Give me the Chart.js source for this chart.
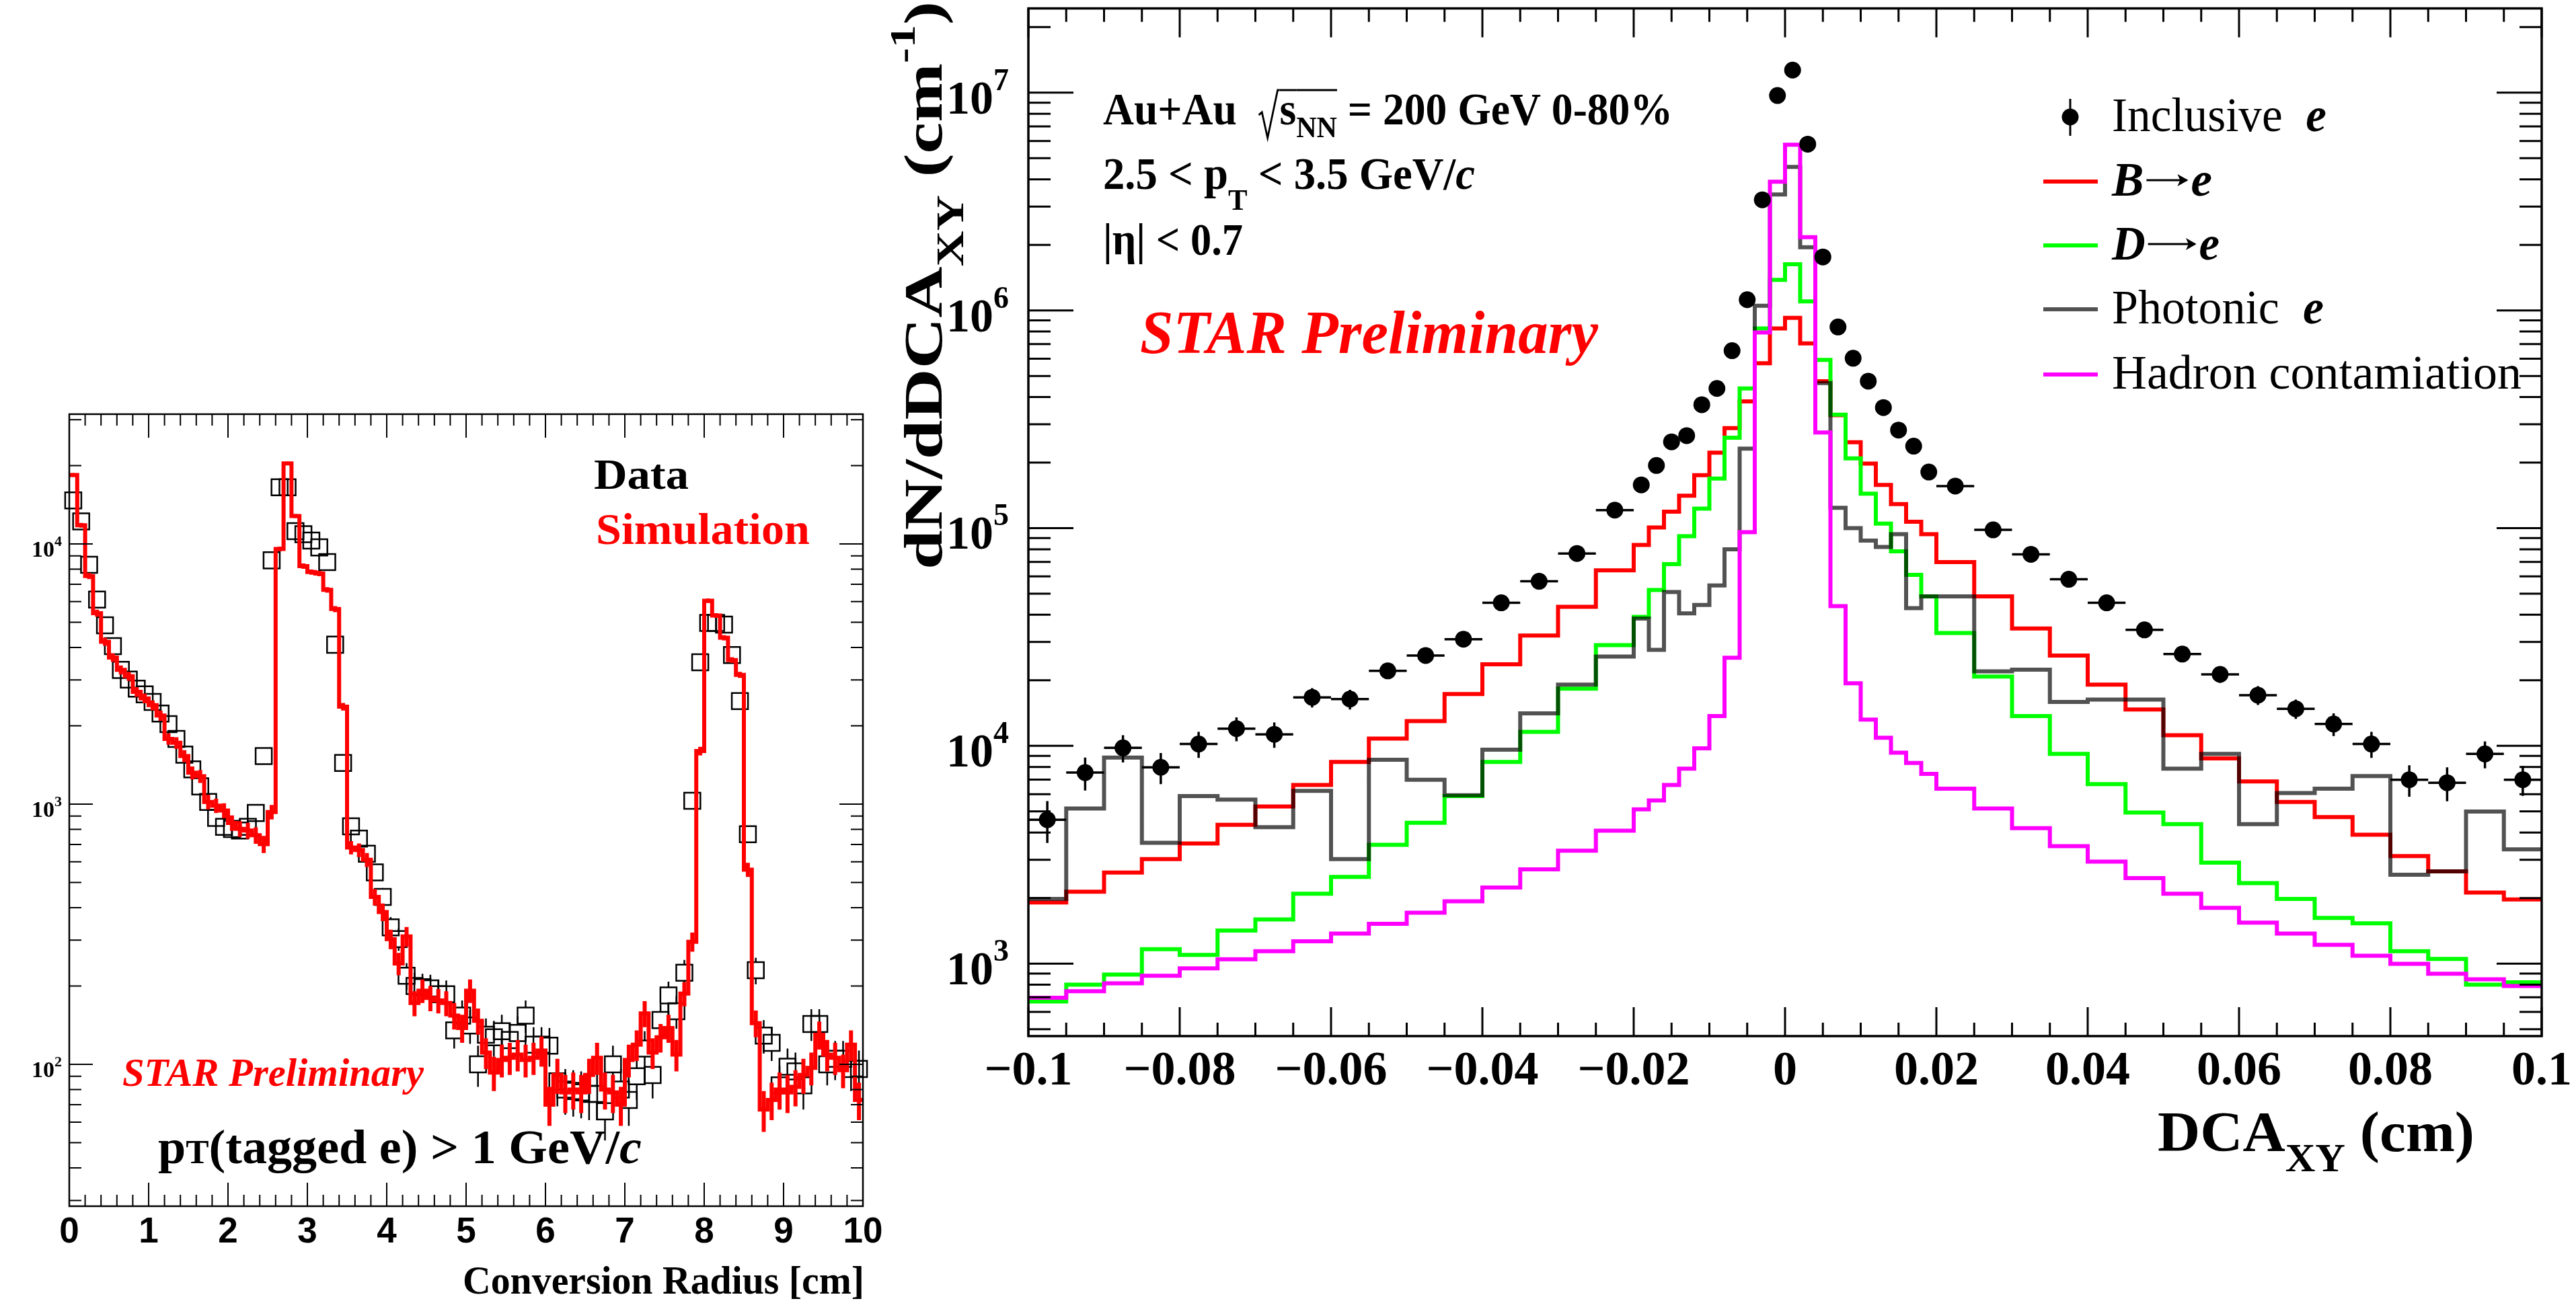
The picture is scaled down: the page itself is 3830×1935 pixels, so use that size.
<!DOCTYPE html>
<html lang="en">
<head>
<meta charset="UTF-8">
<title>Photon conversion radius and electron DCA_XY</title>
<script src="https://cdn.jsdelivr.net/npm/chart.js@4.4.1/dist/chart.umd.min.js"></script>
<style>
  html, body { margin: 0; padding: 0; background: #fff; }
  body { width: 3830px; height: 1935px; position: relative; overflow: hidden; }
  canvas { position: absolute; left: 0; top: 0; }
</style>
</head>
<body>
<canvas id="radius" width="3830" height="1935"></canvas>
<canvas id="dca" width="3830" height="1935"></canvas>
<script>
// ---------- conversion radius panel (0.1 cm bins) ----------
const radiusEdges = Array.from({ length: 101 }, (_, i) => i / 10);
const radiusTickValues = [0, 1, 2, 3, 4, 5, 6, 7, 8, 9, 10];
const radiusDecades = [2, 3, 4];

// simulation histogram
const simVals = [
  18400, 11800, 7530, 5420, 4210, 3660, 3280, 3100, 2700, 2550,
  2400, 2190, 1780, 1720, 1530, 1320, 1280, 1020, 987, 945,
  847, 804, 792, 759, 702, 933, 9570, 20400, 12800, 8220,
  7800, 7700, 6660, 5620, 2370, 681, 666, 611, 440, 385,
  303, 244, 310, 172, 192, 180, 176, 172, 154, 138,
  192, 147, 111, 93, 104, 106, 109, 104, 106, 113,
  70, 91, 78, 80, 78, 91, 106, 80, 78, 70,
  104, 119, 157, 111, 127, 138, 109, 187, 296, 1600,
  6050, 5310, 4360, 3580, 3140, 560, 144, 67, 73, 80,
  78, 82, 91, 97, 130, 109, 106, 95, 119, 73
];
const simErr = [
  300, 250, 200, 170, 150, 140, 130, 125, 115, 110,
  105, 100, 90, 88, 82, 75, 73, 65, 63, 62,
  58, 56, 56, 55, 53, 60, 200, 300, 230, 190,
  180, 180, 165, 150, 80, 40, 40, 38, 32, 30,
  26, 24, 27, 19, 20, 20, 19, 19, 18, 17,
  20, 17, 15, 14, 15, 15, 15, 15, 15, 15,
  12, 14, 13, 13, 13, 14, 15, 13, 13, 12,
  15, 16, 18, 15, 16, 17, 15, 20, 25, 60,
  120, 110, 100, 90, 85, 35, 17, 12, 12, 13,
  13, 13, 14, 14, 16, 15, 15, 14, 16, 12
];
// data (open squares)
const dataVals = [
  14700, 12200, 8320, 6110, 4870, 4050, 3280, 3010, 2780, 2640,
  2470, 2230, 2030, 1780, 1550, 1360, 1170, 1020, 885, 818,
  803, 792, 818, 925, 1530, 8650, 16500, 16500, 11200, 10900,
  10300, 9700, 8520, 4100, 1440, 822, 737, 645, 547, 440,
  336, 303, 219, 200, 198, 196, 186, 186, 135, 154,
  141, 100, 130, 127, 134, 124, 132, 154, 119, 119,
  118, 86, 80, 79, 78, 77, 77, 66, 100, 80,
  73, 90, 115, 91, 148, 184, 160, 225, 1030, 3510,
  4970, 4970, 4900, 3740, 2490, 766, 230, 129, 121, 83,
  98, 94, 83, 143, 143, 100, 105, 105, 96, 96
];
const dataErr = [
  250, 220, 180, 150, 130, 120, 110, 105, 100, 95,
  92, 88, 84, 78, 73, 68, 63, 60, 55, 53,
  53, 52, 53, 57, 73, 170, 240, 240, 200, 195,
  190, 185, 170, 120, 70, 50, 47, 44, 40, 36,
  32, 30, 26, 25, 25, 25, 24, 24, 20, 22,
  21, 18, 20, 20, 21, 20, 21, 22, 20, 20,
  20, 17, 16, 16, 16, 16, 16, 15, 18, 16,
  15, 17, 19, 17, 22, 24, 23, 27, 60, 110,
  130, 130, 130, 115, 90, 50, 27, 19, 18, 16,
  17, 17, 16, 20, 20, 17, 18, 18, 17, 17
];

// ---------- DCA_XY panel (variable binning) ----------
const dcaEdges = [
  -0.1, -0.095, -0.09, -0.085, -0.08, -0.075, -0.07, -0.065, -0.06, -0.055,
  -0.05, -0.045, -0.04, -0.035, -0.03, -0.025, -0.02,
  -0.018, -0.016, -0.014, -0.012, -0.01, -0.008, -0.006, -0.004, -0.002, 0,
  0.002, 0.004, 0.006, 0.008, 0.01, 0.012, 0.014, 0.016, 0.018, 0.02,
  0.025, 0.03, 0.035, 0.04, 0.045, 0.05, 0.055, 0.06, 0.065, 0.07,
  0.075, 0.08, 0.085, 0.09, 0.095, 0.1
];
const dcaTickValues = [-0.1, -0.08, -0.06, -0.04, -0.02, 0, 0.02, 0.04, 0.06, 0.08, 0.1];
const dcaDecades = [3, 4, 5, 6, 7];

const inclusiveVals = [
  4580, 7540, 9790, 7970, 10200, 12000, 11300, 16700, 16400, 22100,
  26000, 30900, 45400, 57000, 76500, 121000,
  158000, 194000, 249000, 266000, 369000, 438000, 653000, 1120000, 3220000, 9700000,
  12700000, 5800000, 1760000, 839000, 603000, 473000, 358000, 282000, 238000, 181000,
  156000, 98200, 75800, 58200, 45400, 34100, 26400, 21300, 17100, 14800,
  12600, 10200, 6990, 6770, 9180, 6990
];
const inclusiveErr = [
  1000, 1300, 1400, 1300, 1400, 1500, 1500, 1700, 1700, 1800,
  1900, 2000, 2200, 2400, 2700, 3300,
  3800, 4200, 4800, 5000, 6000, 6500, 8000, 10000, 18000, 30000,
  35000, 24000, 13000, 9000, 7800, 6800, 6000, 5300, 4900, 4300,
  3900, 3100, 2700, 2400, 2100, 1900, 1700, 1800, 1700, 1500,
  1500, 1400, 1150, 1200, 1300, 1100
];
const bVals = [
  1910, 2140, 2620, 3020, 3560, 4340, 5270, 6610, 8430, 10800,
  13000, 17300, 23700, 32100, 43500, 64000,
  83700, 100700, 119000, 141000, 175000, 222000, 288000, 382000, 572000, 826000,
  925000, 705000, 473000, 330000, 248000, 198000, 158000, 129000, 107000, 93800,
  69800, 48600, 34600, 26000, 19100, 14700, 11200, 8750, 6860, 5530,
  4710, 3910, 3120, 2650, 2120, 1970
];
const dVals = [
  670, 800, 891, 1165, 1096, 1418, 1595, 2094, 2500, 3510,
  4430, 5880, 8430, 11600, 18300, 29000,
  39100, 52000, 68300, 91800, 123000, 169000, 260000, 438000, 826000, 1380000,
  1630000, 1100000, 593000, 332000, 209000, 144000, 105000, 78200, 61000, 48600,
  33000, 20800, 13700, 9180, 6670, 4940, 4370, 2910, 2340, 1980,
  1620, 1530, 1140, 1050, 800, 820
];
const photonicVals = [
  1980, 5160, 8830, 3590, 5880, 5660, 4230, 6210, 3020, 8630,
  6990, 5930, 9610, 14100, 19100, 25700,
  38400, 27600, 50900, 40600, 44400, 54500, 80000, 232000, 1050000, 3410000,
  4560000, 1950000, 464000, 124000, 100000, 87600, 81900, 93800, 42900, 48600,
  48600, 22000, 22400, 15900, 16300, 16300, 7860, 9180, 4370, 6070,
  6360, 7260, 2560, 2650, 4990, 3350
];
const hadronVals = [
  697, 746, 811, 879, 950, 1047, 1140, 1267, 1374, 1523,
  1712, 1932, 2235, 2710, 3300, 4080,
  5110, 5610, 6610, 7860, 9750, 13700, 25400, 95900, 792000, 3900000,
  5770000, 2170000, 275000, 43800, 19400, 13200, 10900, 9300, 8350, 7430,
  6360, 5160, 4190, 3460, 2940, 2470, 2094, 1803, 1542, 1374,
  1220, 1086, 998, 899, 847, 789
];

const SERIF = '"Liberation Serif", "Times New Roman", Times, serif';
const SANS = '"Liberation Sans", Arial, Helvetica, sans-serif';
const RED = '#ff0000';
const GREEN = '#00ff00';
const MAGENTA = '#ff00ff';
const GREY = 'rgba(0,0,0,0.68)';
const LINE_W = 6;

// histogram outline: value i is held from edge i to edge i+1
function stepPoints(edges, vals) {
  const pts = vals.map((v, i) => ({ x: edges[i], y: v }));
  pts.push({ x: edges[vals.length], y: vals[vals.length - 1] });
  return pts;
}
function centerPoints(edges, vals) {
  return vals.map((v, i) => ({ x: (edges[i] + edges[i + 1]) / 2, y: v }));
}

function seg(t, size, style, dy, extra) {
  return Object.assign({ t: t, size: size, style: style || 'bold', dy: dy || 0 }, extra || {});
}

// long right arrow used in B->e / D->e
function arrowSeg(w, lift) {
  return {
    w: w,
    draw(c, x) {
      c.lineWidth = 3;
      c.beginPath();
      c.moveTo(x + 4, -lift); c.lineTo(x + w - 6, -lift);
      c.stroke();
      c.beginPath();
      c.moveTo(x + w - 4, -lift); c.lineTo(x + w - 20, -lift - 9); c.lineTo(x + w - 16, -lift); c.lineTo(x + w - 20, -lift + 9);
      c.closePath();
      c.fill();
    }
  };
}

// draws a run of text pieces (sub/superscripts, mixed styles), optionally squeezed to a width
function drawRich(ctx, segs, x, y, opt) {
  opt = opt || {};
  const fam = opt.family || SERIF;
  let total = 0;
  const ws = segs.map(s => {
    let w = s.w;
    if (w == null) {
      ctx.font = s.style + ' ' + s.size + 'px ' + (s.family || fam);
      w = ctx.measureText(s.t).width;
    }
    total += w;
    return w;
  });
  const sx = opt.width ? opt.width / total : 1;
  let cx = 0;
  if (opt.align === 'right') cx = -total;
  else if (opt.align === 'center') cx = -total / 2;
  ctx.save();
  ctx.translate(x, y);
  if (opt.rotate) ctx.rotate(opt.rotate);
  ctx.scale(sx, 1);
  ctx.textAlign = 'left';
  ctx.textBaseline = 'alphabetic';
  segs.forEach((s, i) => {
    const col = s.color || opt.color || '#000';
    ctx.fillStyle = col;
    ctx.strokeStyle = col;
    if (s.draw) {
      s.draw(ctx, cx, ws[i]);
    } else {
      ctx.font = s.style + ' ' + s.size + 'px ' + (s.family || fam);
      ctx.fillText(s.t, cx, s.dy);
    }
    if (s.over != null) {
      ctx.lineWidth = 3;
      ctx.beginPath();
      ctx.moveTo(cx, s.over);
      ctx.lineTo(cx + ws[i], s.over);
      ctx.stroke();
    }
    cx += ws[i];
  });
  ctx.restore();
}

function logTicks(scale) {
  const out = [];
  const lo = Math.floor(Math.log10(scale.min)), hi = Math.ceil(Math.log10(scale.max));
  for (let k = lo; k <= hi; k++) {
    for (let m = 1; m <= 9; m++) {
      const v = m * Math.pow(10, k);
      if (v >= scale.min && v <= scale.max) out.push({ v: v, major: m === 1 });
    }
  }
  return out;
}

// ROOT-like frame with ticks on all four sides pointing inwards
function drawFrame(chart, xTicks, st) {
  const ctx = chart.ctx, a = chart.chartArea, xs = chart.scales.x, ys = chart.scales.y;
  ctx.save();
  ctx.strokeStyle = '#000';
  ctx.lineCap = 'butt';
  ctx.lineWidth = st.tickWidth;
  ctx.beginPath();
  xTicks.forEach(t => {
    const px = xs.getPixelForValue(t.v);
    const len = t.major ? st.xMajor : st.xMinor;
    ctx.moveTo(px, a.bottom); ctx.lineTo(px, a.bottom - len);
    ctx.moveTo(px, a.top); ctx.lineTo(px, a.top + len);
  });
  logTicks(ys).forEach(t => {
    const py = ys.getPixelForValue(t.v);
    const len = t.major ? st.yMajor : st.yMinor;
    ctx.moveTo(a.left, py); ctx.lineTo(a.left + len, py);
    ctx.moveTo(a.right, py); ctx.lineTo(a.right - len, py);
  });
  ctx.stroke();
  ctx.lineWidth = st.frameWidth;
  ctx.strokeRect(a.left, a.top, a.right - a.left, a.bottom - a.top);
  ctx.restore();
}

// ---------------- left chart ----------------
const radiusDecor = {
  id: 'radiusDecor',
  beforeDatasetsDraw(chart) {
    // data error bars, only the part sticking out of the square
    const ctx = chart.ctx, xs = chart.scales.x, ys = chart.scales.y;
    const half = 12;
    ctx.save();
    ctx.strokeStyle = '#000';
    ctx.lineWidth = 2.5;
    ctx.beginPath();
    dataVals.forEach((v, i) => {
      const xc = xs.getPixelForValue((radiusEdges[i] + radiusEdges[i + 1]) / 2);
      const yc = ys.getPixelForValue(v);
      const yTop = ys.getPixelForValue(v + dataErr[i]);
      const yBot = ys.getPixelForValue(Math.max(v - dataErr[i], 1));
      if (yc - yTop > half) { ctx.moveTo(xc, yc - half); ctx.lineTo(xc, yTop); }
      if (yBot - yc > half) { ctx.moveTo(xc, yc + half); ctx.lineTo(xc, yBot); }
    });
    ctx.stroke();
    ctx.restore();
  },
  afterDatasetsDraw(chart) {
    const ctx = chart.ctx, xs = chart.scales.x, ys = chart.scales.y;
    ctx.save();
    ctx.strokeStyle = RED;
    ctx.lineWidth = LINE_W;
    ctx.beginPath();
    simVals.forEach((v, i) => {
      const xc = xs.getPixelForValue((radiusEdges[i] + radiusEdges[i + 1]) / 2);
      ctx.moveTo(xc, ys.getPixelForValue(v + simErr[i]));
      ctx.lineTo(xc, ys.getPixelForValue(Math.max(v - simErr[i], 1)));
    });
    ctx.stroke();
    ctx.restore();
  },
  afterDraw(chart) {
    const ctx = chart.ctx, xs = chart.scales.x, ys = chart.scales.y;
    const xTicks = [];
    for (let i = 0; i <= 50; i++) xTicks.push({ v: i * 0.2, major: i % 5 === 0 });
    drawFrame(chart, xTicks, { tickWidth: 2, frameWidth: 2.5, xMajor: 35, xMinor: 17, yMajor: 35, yMinor: 18 });

    ctx.save();
    ctx.fillStyle = '#000';
    ctx.font = 'bold 53px ' + SANS;
    ctx.textAlign = 'center';
    ctx.textBaseline = 'alphabetic';
    radiusTickValues.forEach(v => ctx.fillText(String(v), xs.getPixelForValue(v), 1848));
    ctx.restore();

    radiusDecades.forEach(k => {
      const py = ys.getPixelForValue(Math.pow(10, k));
      drawRich(ctx, [seg('10', 34), seg(String(k), 22, 'bold', -16)], 92, py + 19, { align: 'right' });
    });

    drawRich(ctx, [seg('Conversion Radius [cm]', 60)], 688, 1924, { width: 597 });
    drawRich(ctx, [seg('Data', 64)], 883, 727, { width: 141 });
    drawRich(ctx, [seg('Simulation', 66)], 886, 809, { width: 318, color: RED });
    drawRich(ctx, [seg('STAR Preliminary', 59, 'bold italic')], 182, 1615, { width: 448, color: RED });
    drawRich(ctx, [
      seg('p', 72), seg('T', 50), seg('(tagged e) > 1 GeV/', 72), seg('c', 72, 'bold italic')
    ], 235, 1730, { width: 719 });
  }
};

new Chart(document.getElementById('radius'), {
  type: 'line',
  data: {
    datasets: [
      {
        label: 'Data',
        data: centerPoints(radiusEdges, dataVals),
        showLine: false,
        pointStyle: 'rect',
        pointRadius: 17,
        pointBorderWidth: 2.5,
        pointBorderColor: '#000',
        pointBackgroundColor: 'rgba(0,0,0,0)',
        clip: false,
        order: 1
      },
      {
        label: 'Simulation',
        data: stepPoints(radiusEdges, simVals),
        stepped: true,
        borderColor: RED,
        borderWidth: LINE_W,
        borderJoinStyle: 'miter',
        pointRadius: 0,
        fill: false,
        order: 0
      }
    ]
  },
  options: {
    responsive: false,
    animation: false,
    devicePixelRatio: 1,
    events: [],
    layout: { padding: { left: 103, top: 616, right: 3830 - 1283, bottom: 1935 - 1794 } },
    scales: {
      x: { type: 'linear', min: 0, max: 10, display: false },
      y: { type: 'logarithmic', min: 28.5, max: 31530, display: false }
    },
    plugins: { legend: { display: false }, tooltip: { enabled: false } }
  },
  plugins: [radiusDecor]
});

// ---------------- right chart ----------------
const dcaDecor = {
  id: 'dcaDecor',
  afterDatasetsDraw(chart) {
    const ctx = chart.ctx, xs = chart.scales.x, ys = chart.scales.y;
    ctx.save();
    ctx.strokeStyle = '#000';
    ctx.lineWidth = 3.5;
    ctx.beginPath();
    inclusiveVals.forEach((v, i) => {
      const x0 = xs.getPixelForValue(dcaEdges[i]);
      const x1 = xs.getPixelForValue(dcaEdges[i + 1]);
      const xc = (x0 + x1) / 2;
      const yc = ys.getPixelForValue(v);
      ctx.moveTo(x0, yc); ctx.lineTo(x1, yc);
      ctx.moveTo(xc, ys.getPixelForValue(v + inclusiveErr[i]));
      ctx.lineTo(xc, ys.getPixelForValue(v - inclusiveErr[i]));
    });
    ctx.stroke();
    ctx.restore();
  },
  afterDraw(chart) {
    const ctx = chart.ctx, xs = chart.scales.x, ys = chart.scales.y;
    const xTicks = [];
    for (let i = -20; i <= 20; i++) xTicks.push({ v: i * 0.005, major: i % 4 === 0 });
    drawFrame(chart, xTicks, { tickWidth: 3, frameWidth: 3.5, xMajor: 43, xMinor: 20, yMajor: 67, yMinor: 33 });

    ctx.save();
    ctx.fillStyle = '#000';
    ctx.font = 'bold 72px ' + SERIF;
    ctx.textAlign = 'center';
    ctx.textBaseline = 'alphabetic';
    dcaTickValues.forEach(v => {
      const txt = (v < 0 ? '\u2212' : '') + String(Math.abs(v));
      ctx.fillText(txt, xs.getPixelForValue(v), 1613);
    });
    ctx.restore();

    dcaDecades.forEach(k => {
      const py = ys.getPixelForValue(Math.pow(10, k));
      drawRich(ctx, [seg('10', 70), seg(String(k), 46, 'bold', -35)], 1500, py + 31, { align: 'right' });
    });

    // axis titles
    drawRich(ctx, [seg('DCA', 85), seg('XY', 60, 'bold', 30), seg(' (cm)', 85)], 3208, 1712, { width: 471 });
    drawRich(ctx, [
      seg('dN/dDCA', 80), seg('XY', 56, 'bold', 32), seg(' (cm', 80), seg('-1', 52, 'bold', -40), seg(')', 80)
    ], 1400, 847, { width: 845, rotate: -Math.PI / 2 });

    // event selection
    const radical = {
      w: 34,
      draw(c, x) {
        c.lineWidth = 3;
        c.beginPath();
        c.moveTo(x + 1, -14); c.lineTo(x + 6, -18); c.lineTo(x + 15, 20); c.lineTo(x + 31, -51); c.lineTo(x + 34, -51);
        c.stroke();
      }
    };
    drawRich(ctx, [
      seg('Au+Au  ', 68), radical, seg('s', 68, 'bold', 0, { over: -51 }), seg('NN', 45, 'bold', 19, { over: -51 }),
      seg(' = 200 GeV 0-80%', 68)
    ], 1640, 185, { width: 847 });
    drawRich(ctx, [seg('2.5 < p', 68), seg('T', 45, 'bold', 31), seg(' < 3.5 GeV/', 68), seg('c', 68, 'bold italic')],
      1640, 281, { width: 553 });
    drawRich(ctx, [seg('|\u03b7| < 0.7', 68)], 1640, 379, { width: 208 });
    drawRich(ctx, [seg('STAR Preliminary', 90, 'bold italic')], 1695, 525, { width: 681, color: RED });

    // legend
    ctx.save();
    ctx.fillStyle = '#000';
    ctx.strokeStyle = '#000';
    ctx.lineWidth = 3;
    ctx.beginPath();
    ctx.moveTo(3078, 147); ctx.lineTo(3078, 202);
    ctx.stroke();
    ctx.beginPath();
    ctx.arc(3078, 174, 12.5, 0, Math.PI * 2);
    ctx.fill();
    const rows = [
      { y: 270, c: RED }, { y: 365, c: GREEN }, { y: 460, c: GREY }, { y: 557, c: MAGENTA }
    ];
    ctx.lineWidth = LINE_W;
    rows.forEach(r => {
      ctx.strokeStyle = r.c;
      ctx.beginPath();
      ctx.moveTo(3038, r.y); ctx.lineTo(3119, r.y);
      ctx.stroke();
    });
    ctx.restore();
    drawRich(ctx, [seg('Inclusive  ', 71, 'normal'), seg('e', 71, 'bold italic')], 3140, 195, { width: 319 });
    drawRich(ctx, [seg('B', 71, 'bold italic'), arrowSeg(70, 23), seg('e', 71, 'bold italic')], 3140, 291, { width: 149 });
    drawRich(ctx, [seg('D', 71, 'bold italic'), arrowSeg(82, 23), seg('e', 71, 'bold italic')], 3140, 386, { width: 160 });
    drawRich(ctx, [seg('Photonic  ', 71, 'normal'), seg('e', 71, 'bold italic')], 3140, 481, { width: 315 });
    drawRich(ctx, [seg('Hadron contamiation', 71, 'normal')], 3140, 578, { width: 609 });
  }
};

function histo(label, vals, color, order) {
  return {
    label: label,
    data: stepPoints(dcaEdges, vals),
    stepped: true,
    borderColor: color,
    borderWidth: LINE_W,
    borderJoinStyle: 'miter',
    pointRadius: 0,
    fill: false,
    order: order
  };
}

new Chart(document.getElementById('dca'), {
  type: 'line',
  data: {
    datasets: [
      {
        label: 'Inclusive e',
        data: centerPoints(dcaEdges, inclusiveVals),
        showLine: false,
        pointStyle: 'circle',
        pointRadius: 12.5,
        pointBorderWidth: 0,
        pointBackgroundColor: '#000',
        pointBorderColor: '#000',
        order: 0
      },
      histo('Hadron contamiation', hadronVals, MAGENTA, 1),
      histo('Photonic e', photonicVals, GREY, 2),
      histo('D\u2192e', dVals, GREEN, 3),
      histo('B\u2192e', bVals, RED, 4)
    ]
  },
  options: {
    responsive: false,
    animation: false,
    devicePixelRatio: 1,
    events: [],
    layout: { padding: { left: 1529, top: 12, right: 3830 - 3779, bottom: 1935 - 1541 } },
    scales: {
      x: { type: 'linear', min: -0.1, max: 0.1, display: false },
      y: { type: 'logarithmic', min: 464.5, max: 24380000, display: false }
    },
    plugins: { legend: { display: false }, tooltip: { enabled: false } }
  },
  plugins: [dcaDecor]
});
</script>
</body>
</html>
